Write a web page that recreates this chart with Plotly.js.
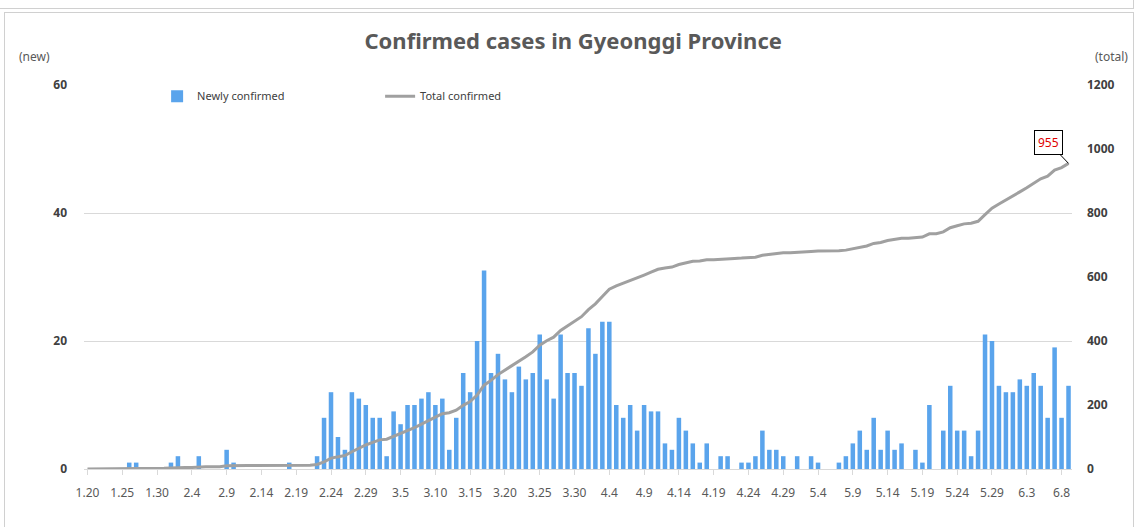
<!DOCTYPE html>
<html>
<head>
<meta charset="utf-8">
<script src="https://cdn.plot.ly/plotly-3.0.1.min.js"></script>
<style>
  html, body { margin: 0; padding: 0; background: #ffffff; }
  #wrap { position: relative; width: 1135px; height: 527px; overflow: hidden; background: #fff; }
  #chart { position: absolute; left: 0; top: 0; width: 1135px; height: 527px; }
  .frame { position: absolute; border: 1px solid #d0d0d0; pointer-events: none; }
</style>
</head>
<body>
<div id="wrap">
  <div class="frame" style="left:-2px; top:-2px; width:1134px; height:9px;"></div>
  <div class="frame" style="left:4px; top:12px; width:1128px; height:520px;"></div>
  <div id="chart"></div>
</div>
<script>
// Dates (month.day), 2020-01-20 .. 2020-06-09
const dates = [
  "1.20","1.21","1.22","1.23","1.24","1.25","1.26","1.27","1.28","1.29","1.30","1.31",
  "2.1","2.2","2.3","2.4","2.5","2.6","2.7","2.8","2.9","2.10","2.11","2.12","2.13","2.14","2.15","2.16","2.17","2.18","2.19","2.20","2.21","2.22","2.23","2.24","2.25","2.26","2.27","2.28","2.29",
  "3.1","3.2","3.3","3.4","3.5","3.6","3.7","3.8","3.9","3.10","3.11","3.12","3.13","3.14","3.15","3.16","3.17","3.18","3.19","3.20","3.21","3.22","3.23","3.24","3.25","3.26","3.27","3.28","3.29","3.30","3.31",
  "4.1","4.2","4.3","4.4","4.5","4.6","4.7","4.8","4.9","4.10","4.11","4.12","4.13","4.14","4.15","4.16","4.17","4.18","4.19","4.20","4.21","4.22","4.23","4.24","4.25","4.26","4.27","4.28","4.29","4.30",
  "5.1","5.2","5.3","5.4","5.5","5.6","5.7","5.8","5.9","5.10","5.11","5.12","5.13","5.14","5.15","5.16","5.17","5.18","5.19","5.20","5.21","5.22","5.23","5.24","5.25","5.26","5.27","5.28","5.29","5.30","5.31",
  "6.1","6.2","6.3","6.4","6.5","6.6","6.7","6.8","6.9"
];

// Newly confirmed (left axis)
const newCases = [
  0,0,0,0,0,0,1,1,0,0,0,0,
  1,2,0,0,2,0,0,0,3,1,0,0,0,0,0,0,0,1,0,0,0,2,8,12,5,3,12,11,10,
  8,8,2,9,7,10,10,11,12,10,11,3,8,15,12,20,31,15,18,14,12,16,14,15,21,14,11,21,15,15,13,
  22,18,23,23,10,8,10,6,10,9,9,4,3,8,6,4,1,4,0,2,2,0,1,1,2,6,3,3,2,0,
  2,0,2,1,0,0,1,2,4,6,3,8,3,6,3,4,0,3,1,10,0,6,13,6,6,2,6,21,20,13,12,
  12,14,13,15,13,8,19,8,13
];

// Total confirmed (right axis)
const totalCases = [
  0,0,0,0,0,0,1,2,2,2,2,2,
  3,5,5,5,7,7,7,7,10,11,11,11,11,11,11,11,11,12,12,12,12,14,22,34,39,42,54,65,75,
  83,91,93,102,109,119,129,140,152,162,173,176,184,199,211,231,262,277,295,309,321,337,351,366,387,401,412,433,448,463,476,
  498,516,539,562,572,580,590,596,606,615,624,628,631,639,645,649,650,654,654,656,658,658,659,660,662,668,671,674,676,676,
  678,678,680,681,681,681,682,684,688,694,697,705,708,714,717,721,721,724,725,735,735,741,754,760,766,768,774,795,815,828,840,
  852,866,879,894,907,915,934,942,955
];

// Tick labels shown on the category axis
const tickLabels = ["1.20","1.25","1.30","2.4","2.9","2.14","2.19","2.24","2.29","3.5","3.10","3.15","3.20","3.25","3.30","4.4","4.9","4.14","4.19","4.24","4.29","5.4","5.9","5.14","5.19","5.24","5.29","6.3","6.8"];
const leftTicks = [0, 20, 40, 60];
const rightTicks = [0, 200, 400, 600, 800, 1000, 1200];

const FONT = "'Noto Sans', 'Open Sans', sans-serif";
const lastIdx = dates.length - 1;

const traces = [
  {
    type: "bar",
    name: "Newly confirmed",
    x: dates,
    y: newCases,
    marker: { color: "#5AA4EC", line: { width: 0 } },
    yaxis: "y",
    hoverinfo: "x+y"
  },
  {
    type: "scatter",
    mode: "lines",
    name: "Total confirmed",
    x: dates,
    y: totalCases,
    yaxis: "y2",
    line: { color: "#A0A0A0", width: 3 }
  }
];

const layout = {
  width: 1135,
  height: 527,
  margin: { l: 84, r: 63, t: 85, b: 58 },
  paper_bgcolor: "rgba(0,0,0,0)",
  plot_bgcolor: "rgba(0,0,0,0)",
  font: { family: FONT, color: "#404040", size: 12 },
  showlegend: true,
  bargap: 0.35,
  title: {
    text: "<b>Confirmed cases in Gyeonggi Province</b>",
    font: { family: FONT, size: 22, color: "#595959" },
    x: 0.505, xanchor: "center",
    y: 0.922, yanchor: "middle", xref: "container", yref: "container"
  },
  legend: {
    orientation: "h",
    x: 0.074, xanchor: "left",
    y: 0.971, yanchor: "middle",
    bgcolor: "rgba(0,0,0,0)",
    font: { family: FONT, size: 11, color: "#404040" },
    itemwidth: 30,
    entrywidth: 178,
    entrywidthmode: "pixels",
    traceorder: "normal"
  },
  xaxis: {
    type: "category",
    range: [-0.5, dates.length - 0.5],
    tickmode: "array",
    tickvals: tickLabels,
    ticktext: tickLabels,
    tickangle: 0,
    ticks: "outside",
    ticklen: 5,
    tickcolor: "#d9d9d9",
    ticklabelstandoff: 8,
    tickfont: { family: FONT, size: 12, color: "#595959" },
    showgrid: false,
    showline: true,
    linecolor: "#d9d9d9",
    linewidth: 1,
    zeroline: false,
    fixedrange: true
  },
  yaxis: {
    range: [0, 60],
    tickmode: "array",
    tickvals: leftTicks,
    ticktext: leftTicks.map(String),
    showgrid: true,
    gridcolor: "#d9d9d9",
    gridwidth: 1,
    zeroline: false,
    showline: false,
    ticks: "",
    ticklabelstandoff: 16,
    tickfont: { family: FONT, size: 12, color: "#404040", weight: "bold" },
    fixedrange: true
  },
  yaxis2: {
    overlaying: "y",
    side: "right",
    range: [0, 1200],
    tickmode: "array",
    tickvals: rightTicks,
    ticktext: rightTicks.map(String),
    showgrid: false,
    zeroline: false,
    showline: false,
    ticks: "",
    ticklabelstandoff: 14,
    tickfont: { family: FONT, size: 12, color: "#404040", weight: "bold" },
    fixedrange: true
  },
  annotations: [
    {
      xref: "paper", yref: "paper",
      x: -0.0496, y: 1.073, xanchor: "center", yanchor: "middle",
      text: "(new)", showarrow: false,
      font: { family: FONT, size: 12, color: "#595959" }
    },
    {
      xref: "paper", yref: "paper",
      x: 1.0395, y: 1.073, xanchor: "center", yanchor: "middle",
      text: "(total)", showarrow: false,
      font: { family: FONT, size: 12, color: "#595959" }
    },
    {
      xref: "x", yref: "y2",
      x: lastIdx,
      y: totalCases[lastIdx],
      text: String(totalCases[lastIdx]),
      showarrow: true,
      arrowhead: 0,
      arrowwidth: 1,
      arrowcolor: "#000000",
      ax: -20, ay: -21,
      bgcolor: "#ffffff",
      bordercolor: "#000000",
      borderwidth: 1,
      borderpad: 3,
      font: { family: FONT, size: 12, color: "#E00000" }
    }
  ]
};

Plotly.newPlot("chart", traces, layout, { displayModeBar: false, staticPlot: true });
</script>
</body>
</html>
